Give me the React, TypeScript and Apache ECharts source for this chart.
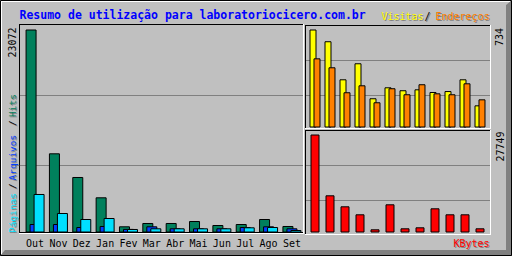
import React, { useEffect, useRef } from "react";
import * as echarts from "echarts";

const months = ["Out", "Nov", "Dez", "Jan", "Fev", "Mar", "Abr", "Mai", "Jun", "Jul", "Ago", "Set"];
const hits = [23072, 9001, 6308, 4001, 705, 1080, 1080, 1307, 852, 966, 1534, 739];
const files = [966, 966, 625, 739, 410, 705, 477, 477, 477, 625, 705, 477];
const pages = [4376, 2216, 1534, 1648, 398, 477, 477, 477, 477, 591, 625, 284];
const visits = [734, 646, 361, 481, 219, 301, 279, 286, 266, 273, 361, 166];
const sites = [518, 451, 264, 316, 189, 294, 249, 324, 256, 249, 331, 211];
const kbytes = [27749, 10533, 7418, 5153, 906, 7985, 1189, 1472, 6852, 5153, 5153, 1189];

const titleText = "Resumo de utilização para laboratoriocicero.com.br";
const maxHits = 23072;
const maxVisits = 734;
const maxKbytes = 27749;

const MONO = "'DejaVu Sans Mono', monospace";
const BG = "#C0C0C0";
const DK = "#808080";
const C_HITS = "#00805C";
const C_FILES = "#0040FF";
const C_PAGES = "#00E0FF";
const C_VISITS = "#FFFF00";
const C_SITES = "#FF8000";
const C_KB = "#FF0000";

function line(x1: number, y1: number, x2: number, y2: number, stroke: string) {
  return { type: "line", silent: true, shape: { x1, y1, x2, y2 }, style: { stroke, lineWidth: 1 } };
}

function txt(text: string, x: number, y: number, fill: string, opts: any = {}) {
  return {
    type: "text",
    silent: true,
    x,
    y,
    rotation: opts.up ? Math.PI / 2 : 0,
    style: {
      text,
      fill,
      font: `${opts.bold ? "bold " : ""}${opts.size || 10}px ${MONO}`,
      textAlign: opts.align || "left",
      textVerticalAlign: "middle",
    },
  };
}

function shadowTxt(text: string, x: number, y: number, fill: string, opts: any = {}) {
  return [txt(text, x + 1, y + 1, DK, opts), txt(text, x, y, fill, opts)];
}

function barSeries(data: number[], color: string, axis: number, width: number, gap: string) {
  return {
    type: "bar",
    xAxisIndex: axis,
    yAxisIndex: axis,
    data,
    barWidth: width,
    barGap: gap,
    itemStyle: { color, borderColor: "#000", borderWidth: 1 },
    emphasis: { disabled: true },
    silent: true,
  };
}

export default function App() {
  const ref = useRef<HTMLDivElement>(null);
  useEffect(() => {
    document.body.style.margin = "0";
    const chart = echarts.init(ref.current!, null, { renderer: "svg" });
    const up = { up: true, size: 9.5 };
    const graphic: any[] = [
      // outer frame
      { type: "polygon", silent: true, shape: { points: [[512, 0], [512, 256], [0, 256], [5, 250], [506, 250], [506, 5]] }, style: { fill: DK } },
      { type: "rect", silent: true, shape: { x: 0.5, y: 0.5, width: 511, height: 255 }, style: { fill: "none", stroke: "#000", lineWidth: 1 } },
      line(1, 1.5, 510, 1.5, "#fff"),
      line(1.5, 1, 1.5, 254, "#fff"),
      // main panel
      line(19, 24.5, 304, 24.5, "#000"),
      line(19.5, 24, 19.5, 234, "#000"),
      line(303.5, 24, 303.5, 234, "#fff"),
      line(19, 233.5, 304, 233.5, "#fff"),
      line(20, 95.5, 303, 95.5, DK),
      line(20, 165.5, 303, 165.5, DK),
      line(20, 232.5, 303, 232.5, "#000"),
      // top right panel
      line(305, 25.5, 491, 25.5, "#000"),
      line(305.5, 25, 305.5, 129, "#000"),
      line(490.5, 25, 490.5, 129, "#fff"),
      line(305, 128.5, 491, 128.5, "#fff"),
      line(306, 60.5, 490, 60.5, DK),
      line(306, 95.5, 490, 95.5, DK),
      // bottom right panel
      line(305, 130.5, 491, 130.5, "#000"),
      line(305.5, 130, 305.5, 235, "#000"),
      line(490.5, 130, 490.5, 235, "#fff"),
      line(305, 234.5, 491, 234.5, "#fff"),
      line(306, 165.5, 490, 165.5, DK),
      line(306, 200.5, 490, 200.5, DK),
      // title
      txt(titleText, 19.5, 14.8, "#0000FF", { bold: true, size: 11.5 }),
      // legends
      ...shadowTxt("Visitas", 381.5, 16.8, C_VISITS),
      ...shadowTxt("/", 424.5, 16.8, "#000"),
      ...shadowTxt("Endereços", 435.5, 16.8, C_SITES),
      ...shadowTxt("KBytes", 489.5, 243.8, C_KB, { align: "right" }),
      ...shadowTxt("Páginas", 12, 233, C_PAGES, up),
      ...shadowTxt("/", 12, 189, "#000", up),
      ...shadowTxt("Arquivos", 12, 180.5, C_FILES, up),
      ...shadowTxt("/", 12, 126, "#000", up),
      ...shadowTxt("Hits", 12, 117, C_HITS, up),
      // max values
      txt(String(maxHits), 12.5, 57.5, "#000", { up: true }),
      txt(String(maxVisits), 499.5, 46, "#000", { up: true }),
      txt(String(maxKbytes), 500, 161.5, "#000", { up: true }),
    ];

    const hiddenX = (gridIndex: number) => ({ type: "category", gridIndex, data: months, show: false });
    const option: any = {
      animation: false,
      backgroundColor: BG,
      graphic,
      grid: [
        { left: 23.4, right: 208.4, top: 29.5, bottom: 23.5 },
        { left: 307.5, width: 180, top: 29.5, height: 98 },
        { left: 307.5, width: 180, top: 134.5, height: 98 },
      ],
      xAxis: [
        {
          type: "category",
          gridIndex: 0,
          data: months,
          axisLine: { show: false },
          axisTick: { show: false },
          splitLine: { show: false },
          axisLabel: { color: "#000", fontFamily: MONO, fontSize: 10, margin: 6, interval: 0 },
        },
        hiddenX(1),
        hiddenX(2),
      ],
      yAxis: [
        { type: "value", gridIndex: 0, min: 0, max: maxHits, show: false },
        { type: "value", gridIndex: 1, min: 0, max: maxVisits, show: false },
        { type: "value", gridIndex: 2, min: 0, max: maxKbytes, show: false },
      ],
      series: [
        barSeries(hits, C_HITS, 0, 11, "-63.64%"),
        barSeries(files, C_FILES, 0, 11, "-63.64%"),
        barSeries(pages, C_PAGES, 0, 11, "-63.64%"),
        barSeries(visits, C_VISITS, 1, 7, "-42.86%"),
        barSeries(sites, C_SITES, 1, 7, "-42.86%"),
        barSeries(kbytes, C_KB, 2, 9, "-42.86%"),
      ],
    };
    chart.setOption(option);
    return () => chart.dispose();
  }, []);
  return <div ref={ref} style={{ width: 512, height: 256, position: "absolute", left: 0, top: 0 }} />;
}
